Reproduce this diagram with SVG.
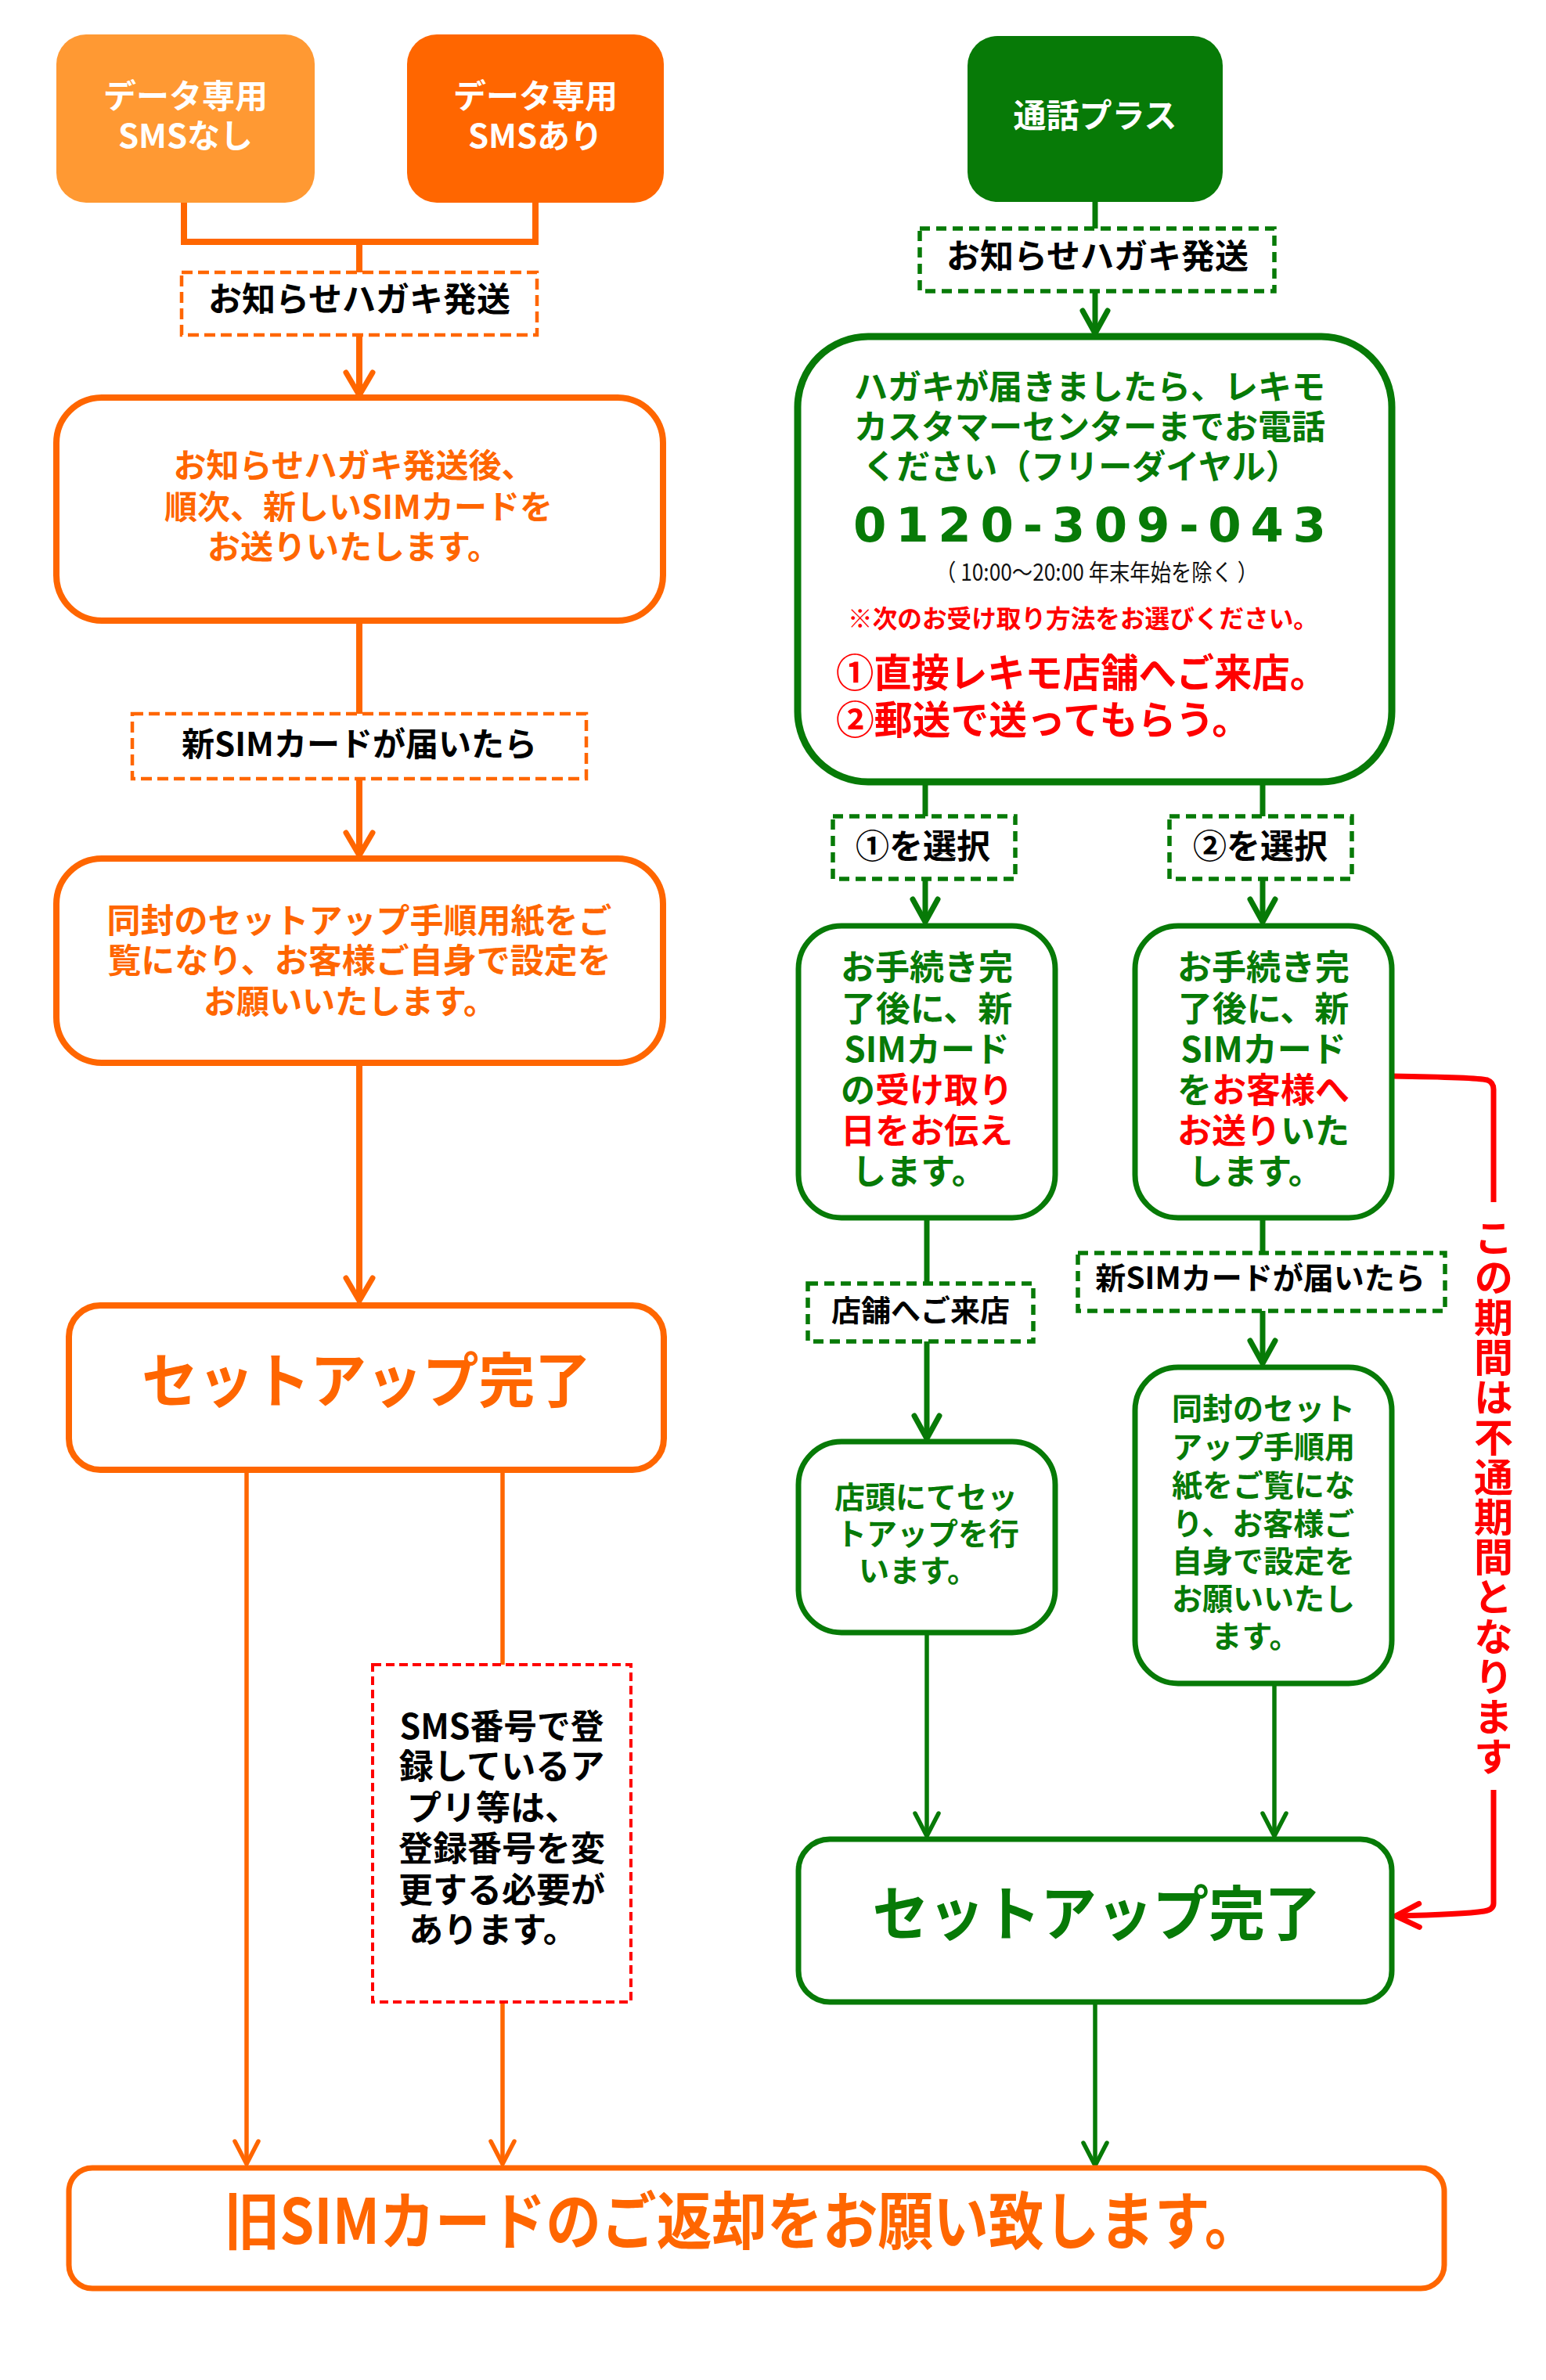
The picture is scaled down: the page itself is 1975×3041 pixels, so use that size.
<svg xmlns="http://www.w3.org/2000/svg" width="1975" height="3041" viewBox="0 0 1975 3041">
<style>
text{font-family:"Noto Sans CJK JP","Noto Sans",sans-serif;font-weight:700}
.wt{fill:#fff;font-size:42px;text-anchor:middle}
.bk{fill:#000;text-anchor:middle}
.ot{fill:#FF6600;text-anchor:middle}
.gt{fill:#077A07;text-anchor:middle}
.rt{fill:#FF0000}
.obox{fill:#fff;stroke:#FF6600;stroke-width:8}
.gbox{fill:#fff;stroke:#077A07;stroke-width:8}
.od{fill:#fff;stroke:#FF6600;stroke-width:4.5;stroke-dasharray:14 7}
.gd{fill:#fff;stroke:#077A07;stroke-width:5.5;stroke-dasharray:13 8}
.rd{fill:#fff;stroke:#FF0000;stroke-width:4;stroke-dasharray:11 6}
.ol{fill:none;stroke:#FF6600;stroke-width:8}
.ol5{fill:none;stroke:#FF6600;stroke-width:5.5}
.gl{fill:none;stroke:#077A07;stroke-width:7}
.gl5{fill:none;stroke:#077A07;stroke-width:5.5}
.rl{fill:none;stroke:#FF0000;stroke-width:7;stroke-linejoin:round}
</style>
<defs>
<marker id="ao" markerUnits="userSpaceOnUse" viewBox="-36 -24 42 48" markerWidth="42" markerHeight="48" refX="0" refY="0" orient="auto"><path d="M-29,-17 L0,0 L-29,17" fill="none" stroke="#FF6600" stroke-width="7" stroke-linecap="round" stroke-linejoin="round"/></marker>
<marker id="ao5" markerUnits="userSpaceOnUse" viewBox="-36 -24 42 48" markerWidth="42" markerHeight="48" refX="0" refY="0" orient="auto"><path d="M-29,-15 L0,0 L-29,15" fill="none" stroke="#FF6600" stroke-width="5.5" stroke-linecap="round" stroke-linejoin="round"/></marker>
<marker id="ag" markerUnits="userSpaceOnUse" viewBox="-36 -24 42 48" markerWidth="42" markerHeight="48" refX="0" refY="0" orient="auto"><path d="M-29,-16 L0,0 L-29,16" fill="none" stroke="#077A07" stroke-width="7" stroke-linecap="round" stroke-linejoin="round"/></marker>
<marker id="ag5" markerUnits="userSpaceOnUse" viewBox="-36 -24 42 48" markerWidth="42" markerHeight="48" refX="0" refY="0" orient="auto"><path d="M-29,-15 L0,0 L-29,15" fill="none" stroke="#077A07" stroke-width="5.5" stroke-linecap="round" stroke-linejoin="round"/></marker>
<marker id="ar" markerUnits="userSpaceOnUse" viewBox="-36 -24 42 48" markerWidth="42" markerHeight="48" refX="0" refY="0" orient="auto"><path d="M-30,-15 L0,0 L-30,15" fill="none" stroke="#FF0000" stroke-width="7" stroke-linecap="round" stroke-linejoin="round"/></marker>
</defs>
<rect width="1975" height="3041" fill="#fff"/>

<g id="connectors">
<path class="ol" d="M235,258 V309 H684 V258"/>
<path class="ol" d="M459,309 V350"/>
<path class="ol" d="M459,428 V505" marker-end="url(#ao)"/>
<path class="ol" d="M459,793 V914"/>
<path class="ol" d="M459,995 V1093" marker-end="url(#ao)"/>
<path class="ol" d="M459,1358 V1662" marker-end="url(#ao)"/>
<path class="ol5" d="M315,1878 V2765" marker-end="url(#ao5)"/>
<path class="ol5" d="M642,1878 V2129"/>
<path class="ol5" d="M642,2558 V2765" marker-end="url(#ao5)"/>
<path class="gl" d="M1399,258 V294"/>
<path class="gl" d="M1399,372 V426" marker-end="url(#ag)"/>
<path class="gl" d="M1182,999 V1045"/>
<path class="gl" d="M1613,999 V1045"/>
<path class="gl" d="M1182,1123 V1178" marker-end="url(#ag)"/>
<path class="gl" d="M1613,1123 V1178" marker-end="url(#ag)"/>
<path class="gl" d="M1184,1556 V1642"/>
<path class="gl" d="M1184,1714 V1838" marker-end="url(#ag)"/>
<path class="gl" d="M1613,1556 V1603"/>
<path class="gl" d="M1613,1675 V1742" marker-end="url(#ag)"/>
<path class="gl5" d="M1184,2086 V2346" marker-end="url(#ag5)"/>
<path class="gl5" d="M1628,2151 V2346" marker-end="url(#ag5)"/>
<path class="gl5" d="M1399,2558 V2767" marker-end="url(#ag5)"/>
<path class="rl" d="M1778,1375 C1850,1376 1892,1378 1900,1380 Q1908,1383 1908,1392 V1536"/>
<path class="rl" d="M1908,2287 V2432 Q1908,2440 1896,2442 C1870,2446 1830,2447 1783,2448" marker-end="url(#ar)"/>
</g>

<g id="n-data-nosms">
<rect x="72" y="44" width="330" height="215" rx="38" fill="#FF9933"/>
<text class="wt" x="237" y="138">データ専用</text>
<text class="wt" x="237" y="189">SMSなし</text>
</g>
<g id="n-data-sms">
<rect x="520" y="44" width="328" height="215" rx="38" fill="#FF6600"/>
<text class="wt" x="684" y="138">データ専用</text>
<text class="wt" x="684" y="189">SMSあり</text>
</g>
<g id="n-notice-left">
<rect class="od" x="232" y="348" width="454" height="80"/>
<text class="bk" x="459" y="398" font-size="43">お知らせハガキ発送</text>
</g>
<g id="n-send-left">
<rect class="obox" x="72" y="508" width="775" height="285" rx="58"/>
<text class="ot" x="452" y="610" font-size="42">お知らせハガキ発送後、</text>
<text class="ot" x="458" y="663" font-size="42">順次、新しいSIMカードを</text>
<text class="ot" x="452" y="714" font-size="42">お送りいたします。</text>
</g>
<g id="n-arrive-left">
<rect class="od" x="169" y="912" width="580" height="83"/>
<text class="bk" x="459" y="966" font-size="42">新SIMカードが届いたら</text>
</g>
<g id="n-setup-left">
<rect class="obox" x="72" y="1097" width="775" height="261" rx="58"/>
<text class="ot" x="459" y="1192" font-size="43">同封のセットアップ手順用紙をご</text>
<text class="ot" x="459" y="1243" font-size="43">覧になり、お客様ご自身で設定を</text>
<text class="ot" x="447" y="1295" font-size="42">お願いいたします。</text>
</g>
<g id="n-done-left">
<rect class="obox" x="88" y="1668" width="760" height="210" rx="40"/>
<text class="ot" x="468" y="1792" font-size="76" textLength="574" lengthAdjust="spacingAndGlyphs">セットアップ完了</text>
</g>
<g id="n-sms-note">
<rect class="rd" x="476" y="2127" width="330" height="431"/>
<text class="bk" x="641" y="2222" font-size="44" textLength="261" lengthAdjust="spacingAndGlyphs">SMS番号で登</text>
<text class="bk" x="641" y="2273" font-size="44">録しているア</text>
<text class="bk" x="630" y="2326" font-size="44">プリ等は、</text>
<text class="bk" x="641" y="2378" font-size="44">登録番号を変</text>
<text class="bk" x="641" y="2431" font-size="44">更する必要が</text>
<text class="bk" x="630" y="2482" font-size="44">あります。</text>
</g>
<g id="n-return">
<rect class="obox" x="88" y="2770" width="1757" height="154" rx="30" style="stroke-width:7"/>
<text class="ot" x="948" y="2867" font-size="80" textLength="1323" lengthAdjust="spacingAndGlyphs">旧SIMカードのご返却をお願い致します。</text>
</g>

<g id="n-voice">
<rect x="1236" y="46" width="326" height="212" rx="38" fill="#077A07"/>
<text class="wt" x="1399" y="163">通話プラス</text>
</g>
<g id="n-notice-right">
<rect class="gd" x="1175" y="292" width="453" height="80"/>
<text class="bk" x="1402" y="343" font-size="43">お知らせハガキ発送</text>
</g>
<g id="n-call">
<rect class="gbox" x="1019" y="430" width="759" height="569" rx="90" style="stroke-width:9"/>
<text class="gt" x="1392" y="510" font-size="43">ハガキが届きましたら、レキモ</text>
<text class="gt" x="1392" y="561" font-size="43">カスタマーセンターまでお電話</text>
<text class="gt" x="1381" y="612" font-size="43">ください（フリーダイヤル）</text>
<text class="gt" x="1392" y="692" font-size="61" style="font-family:'DejaVu Sans',sans-serif" textLength="604" lengthAdjust="spacing">0120-309-043</text>
<text x="1401" y="742" font-size="30" style="font-weight:400;text-anchor:middle;fill:#111" textLength="412" lengthAdjust="spacingAndGlyphs">（ 10:00〜20:00 年末年始を除く ）</text>
<text class="rt" x="1083" y="802" font-size="32" textLength="601" lengthAdjust="spacingAndGlyphs">※次のお受け取り方法をお選びください。</text>
<text class="rt" x="1068" y="878" font-size="50" textLength="628" lengthAdjust="spacingAndGlyphs">①直接レキモ店舗へご来店。</text>
<text class="rt" x="1068" y="938" font-size="50" textLength="529" lengthAdjust="spacingAndGlyphs">②郵送で送ってもらう。</text>
</g>
<g id="n-choice1">
<rect class="gd" x="1064" y="1043" width="233" height="80"/>
<text class="bk" x="1179" y="1097" font-size="43">①を選択</text>
</g>
<g id="n-choice2">
<rect class="gd" x="1494" y="1043" width="233" height="80"/>
<text class="bk" x="1610" y="1097" font-size="43">②を選択</text>
</g>
<g id="n-store-info">
<rect class="gbox" x="1020" y="1183" width="328" height="373" rx="55" style="stroke-width:7"/>
<text class="gt" x="1184" y="1252" font-size="44">お手続き完</text>
<text class="gt" x="1184" y="1305" font-size="44">了後に、新</text>
<text class="gt" x="1184" y="1357" font-size="44">SIMカード</text>
<text class="gt" x="1184" y="1409" font-size="44">の<tspan class="rt">受け取り</tspan></text>
<text class="gt" x="1184" y="1461" font-size="44"><tspan class="rt">日をお伝え</tspan></text>
<text class="gt" x="1174" y="1513" font-size="44">します。</text>
</g>
<g id="n-mail-info">
<rect class="gbox" x="1450" y="1183" width="328" height="373" rx="55" style="stroke-width:7"/>
<text class="gt" x="1614" y="1252" font-size="44">お手続き完</text>
<text class="gt" x="1614" y="1305" font-size="44">了後に、新</text>
<text class="gt" x="1614" y="1357" font-size="44">SIMカード</text>
<text class="gt" x="1614" y="1409" font-size="44">を<tspan class="rt">お客様へ</tspan></text>
<text class="gt" x="1614" y="1461" font-size="44"><tspan class="rt">お送り</tspan>いた</text>
<text class="gt" x="1604" y="1513" font-size="44">します。</text>
</g>
<g id="n-visit">
<rect class="gd" x="1032" y="1640" width="288" height="74"/>
<text class="bk" x="1176" y="1688" font-size="38">店舗へご来店</text>
</g>
<g id="n-arrive-right">
<rect class="gd" x="1377" y="1601" width="469" height="74"/>
<text class="bk" x="1610" y="1647" font-size="39">新SIMカードが届いたら</text>
</g>
<g id="n-store-setup">
<rect class="gbox" x="1020" y="1842" width="328" height="244" rx="55" style="stroke-width:7"/>
<text class="gt" x="1183" y="1927" font-size="39">店頭にてセッ</text>
<text class="gt" x="1185" y="1974" font-size="39">トアップを行</text>
<text class="gt" x="1173" y="2021" font-size="39">います。</text>
</g>
<g id="n-self-setup">
<rect class="gbox" x="1450" y="1747" width="328" height="404" rx="55" style="stroke-width:7"/>
<text class="gt" x="1614" y="1814" font-size="39">同封のセット</text>
<text class="gt" x="1614" y="1863" font-size="39">アップ手順用</text>
<text class="gt" x="1614" y="1912" font-size="39">紙をご覧にな</text>
<text class="gt" x="1614" y="1961" font-size="39">り、お客様ご</text>
<text class="gt" x="1614" y="2009" font-size="39">自身で設定を</text>
<text class="gt" x="1614" y="2057" font-size="39">お願いいたし</text>
<text class="gt" x="1604" y="2105" font-size="39">ます。</text>
</g>
<g id="n-done-right">
<rect class="gbox" x="1020" y="2350" width="758" height="208" rx="40" style="stroke-width:7"/>
<text class="gt" x="1401" y="2473" font-size="76" textLength="573" lengthAdjust="spacingAndGlyphs">セットアップ完了</text>
</g>
<g id="n-period">
<text class="rt" x="1908" y="1556" font-size="50" style="writing-mode:vertical-rl;letter-spacing:1px">この期間は不通期間となります</text>
</g>
</svg>
